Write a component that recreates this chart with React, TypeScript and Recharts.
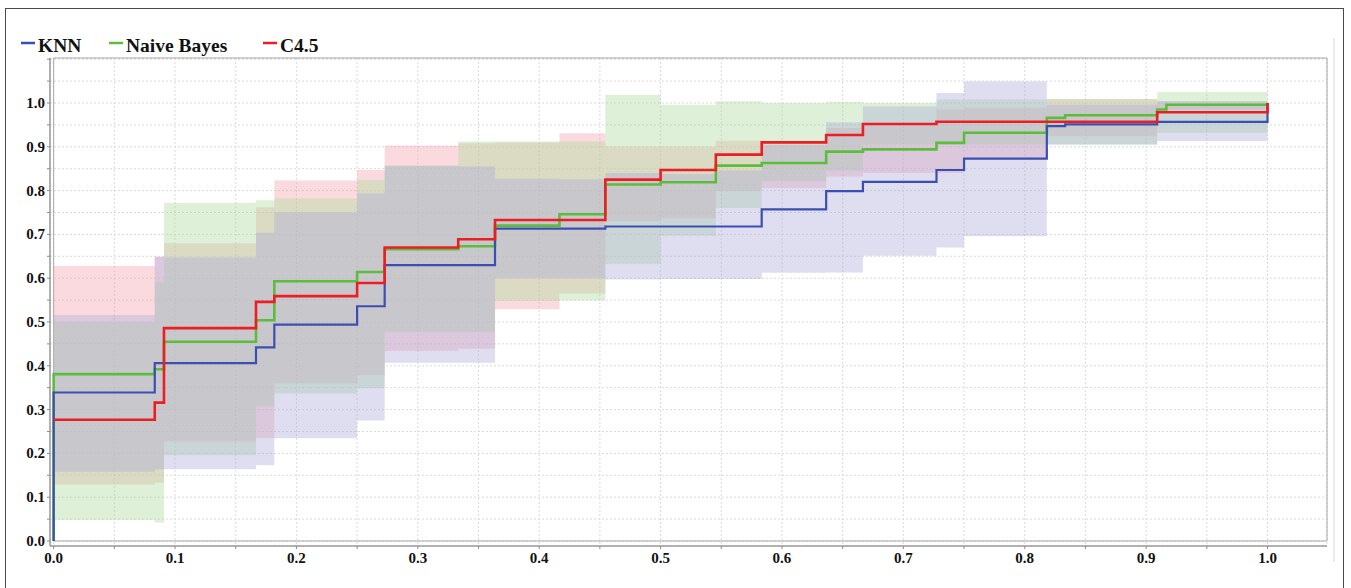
import {
  Area,
  CartesianGrid,
  ComposedChart,
  Line,
  ReferenceArea,
  XAxis,
  YAxis,
} from "recharts";

// step positions (fraction of negatives), the curve holds its value from each x to the next
const X_STEPS = [0, 0, 0.0833, 0.0909, 0.1667, 0.1818, 0.25, 0.2727, 0.3333, 0.3636, 0.4167, 0.4545, 0.5, 0.5455, 0.5833, 0.6364, 0.6667, 0.7273, 0.75, 0.8182, 0.8333, 0.9091, 0.9167, 1.0];

const KNN = [0, 0.339, 0.406, 0.406, 0.442, 0.494, 0.536, 0.63, 0.63, 0.713, 0.713, 0.718, 0.718, 0.718, 0.757, 0.799, 0.82, 0.847, 0.873, 0.947, 0.951, 0.957, 0.957, 1.0];
const NAIVE_BAYES = [0, 0.381, 0.392, 0.455, 0.504, 0.593, 0.614, 0.666, 0.673, 0.72, 0.746, 0.814, 0.819, 0.857, 0.863, 0.889, 0.894, 0.909, 0.932, 0.966, 0.972, 0.985, 0.996, 1.0];
const C45 = [0.277, 0.277, 0.316, 0.486, 0.546, 0.559, 0.589, 0.67, 0.689, 0.733, 0.733, 0.825, 0.847, 0.882, 0.91, 0.927, 0.952, 0.957, 0.957, 0.957, 0.957, 0.979, 0.979, 1.0];

// confidence bands
const KNN_LO = [0.158, 0.158, 0.164, 0.164, 0.173, 0.2345, 0.275, 0.407, 0.407, 0.6, 0.6, 0.597, 0.598, 0.598, 0.6125, 0.613, 0.651, 0.67, 0.696, 0.905, 0.905, 0.913, 0.913, 0.913];
const KNN_HI = [0.516, 0.516, 0.649, 0.648, 0.704, 0.75, 0.794, 0.856, 0.855, 0.827, 0.826, 0.84, 0.838, 0.846, 0.904, 0.956, 0.992, 1.023, 1.049, 0.996, 0.996, 1.004, 1.004, 1.004];
const NB_LO = [0.048, 0.048, 0.042, 0.196, 0.307, 0.337, 0.349, 0.477, 0.477, 0.548, 0.549, 0.632, 0.697, 0.76, 0.822, 0.846, 0.905, 0.905, 0.905, 0.905, 0.905, 0.932, 0.932, 0.932];
const NB_HI = [0.5, 0.5, 0.592, 0.772, 0.778, 0.782, 0.824, 0.857, 0.912, 0.912, 0.912, 1.019, 0.996, 1.004, 1.0, 1.003, 1.0, 1.008, 1.008, 1.009, 1.009, 1.025, 1.025, 1.025];
const C45_LO = [0.129, 0.129, 0.133, 0.227, 0.2345, 0.36, 0.379, 0.434, 0.439, 0.529, 0.565, 0.73, 0.737, 0.799, 0.806, 0.832, 0.84, 0.84, 0.873, 0.924, 0.924, 0.985, 0.985, 0.985];
const C45_HI = [0.628, 0.628, 0.649, 0.68, 0.762, 0.823, 0.847, 0.903, 0.908, 0.91, 0.931, 0.9, 0.9, 0.914, 0.913, 0.943, 0.95, 0.985, 0.989, 1.009, 1.009, 1.004, 1.004, 1.004];

const X_TICKS = [0, 0.05, 0.1, 0.15, 0.2, 0.25, 0.3, 0.35, 0.4, 0.45, 0.5, 0.55, 0.6, 0.65, 0.7, 0.75, 0.8, 0.85, 0.9, 0.95, 1.0];
const Y_TICKS = [0, 0.05, 0.1, 0.15, 0.2, 0.25, 0.3, 0.35, 0.4, 0.45, 0.5, 0.55, 0.6, 0.65, 0.7, 0.75, 0.8, 0.85, 0.9, 0.95, 1.0, 1.05, 1.1];

const rows = X_STEPS.map((x, i) => ({
  x,
  knn: KNN[i],
  nb: NAIVE_BAYES[i],
  c45: C45[i],
  knnBand: [KNN_LO[i], KNN_HI[i]],
  nbBand: [NB_LO[i], NB_HI[i]],
  c45Band: [C45_LO[i], C45_HI[i]],
}));

const BLUE = "#3b4fb0";
const GREEN = "#5cbd3c";
const RED = "#ec1e24";

const labelFont = {
  fontFamily: '"Liberation Serif", "Times New Roman", serif',
  fontWeight: 700,
  fill: "#111",
};

const isMajor = (v: number) => Math.abs(v * 10 - Math.round(v * 10)) < 1e-6 && v < 1.0001;

function XTick({ x, y, payload }: any) {
  if (!isMajor(payload.value)) return <g />;
  return (
    <text x={x} y={y} dy={12} textAnchor="middle" fontSize={15} style={labelFont}>
      {payload.value.toFixed(1)}
    </text>
  );
}

function YTick({ x, y, payload }: any) {
  if (!isMajor(payload.value)) return <g />;
  return (
    <text x={x} y={y} dy={5} textAnchor="end" fontSize={15} style={labelFont}>
      {payload.value.toFixed(1)}
    </text>
  );
}

const legendItems = [
  { name: "KNN", color: BLUE, x: 21 },
  { name: "Naive Bayes", color: GREEN, x: 109 },
  { name: "C4.5", color: RED, x: 263 },
];

export default function App() {
  return (
    <div style={{ position: "absolute", left: 0, top: 0, width: 1351, height: 588, background: "#fff", overflow: "hidden" }}>
      <div
        style={{
          position: "absolute",
          left: 5,
          top: 8,
          width: 1339,
          height: 600,
          border: "1.5px solid #4a4a4a",
          boxSizing: "border-box",
        }}
      />
      <div style={{ position: "absolute", left: 0, top: 0 }}>
        <ComposedChart width={1351} height={588} data={rows} margin={{ top: 58, right: 24, bottom: 12, left: 0 }}>
          <CartesianGrid stroke="#dadada" strokeDasharray="2 2" />
          <XAxis
            dataKey="x"
            type="number"
            domain={[-0.003, 1.049]}
            ticks={X_TICKS}
            interval={0}
            allowDataOverflow
            height={30}
            tickSize={3}
            tick={(p: any) => <XTick {...p} />}
            tickLine={{ stroke: "#8c8c8c" }}
            axisLine={{ stroke: "#9a9a9a", strokeWidth: 1.5 }}
          />
          <YAxis
            type="number"
            domain={[-0.0114, 1.1027]}
            ticks={Y_TICKS}
            interval={0}
            allowDataOverflow
            width={50}
            tickSize={3}
            tick={(p: any) => <YTick {...p} />}
            tickLine={{ stroke: "#8c8c8c" }}
            axisLine={{ stroke: "#9a9a9a", strokeWidth: 1.5 }}
          />
          <ReferenceArea x1={0} x2={1.049} y1={0} y2={1.1027} fill="none" stroke="#a8a8a8" strokeWidth={1} />
          <Area dataKey="c45Band" type="stepAfter" stroke="none" fill="#f2a2ad" fillOpacity={0.4} isAnimationActive={false} />
          <Area dataKey="nbBand" type="stepAfter" stroke="none" fill="#add99b" fillOpacity={0.4} isAnimationActive={false} />
          <Area dataKey="knnBand" type="stepAfter" stroke="none" fill="#adadda" fillOpacity={0.4} isAnimationActive={false} />
          <Line dataKey="nb" type="stepAfter" stroke={GREEN} strokeWidth={2.6} dot={false} isAnimationActive={false} />
          <Line dataKey="knn" type="stepAfter" stroke={BLUE} strokeWidth={2.2} dot={false} isAnimationActive={false} />
          <Line dataKey="c45" type="stepAfter" stroke={RED} strokeWidth={2.6} dot={false} isAnimationActive={false} />
        </ComposedChart>
      </div>
      <svg width={1351} height={588} style={{ position: "absolute", left: 0, top: 0, pointerEvents: "none" }}>
        <line x1={1334} x2={1334} y1={38} y2={562} stroke="#e2e6e6" strokeWidth={1.5} />
        {legendItems.map((it) => (
          <g key={it.name}>
            <line x1={it.x} x2={it.x + 14} y1={43} y2={43} stroke={it.color} strokeWidth={2.5} />
            <text x={it.x + 17} y={51.7} fontSize={19.5} style={labelFont}>
              {it.name}
            </text>
          </g>
        ))}
      </svg>
    </div>
  );
}
